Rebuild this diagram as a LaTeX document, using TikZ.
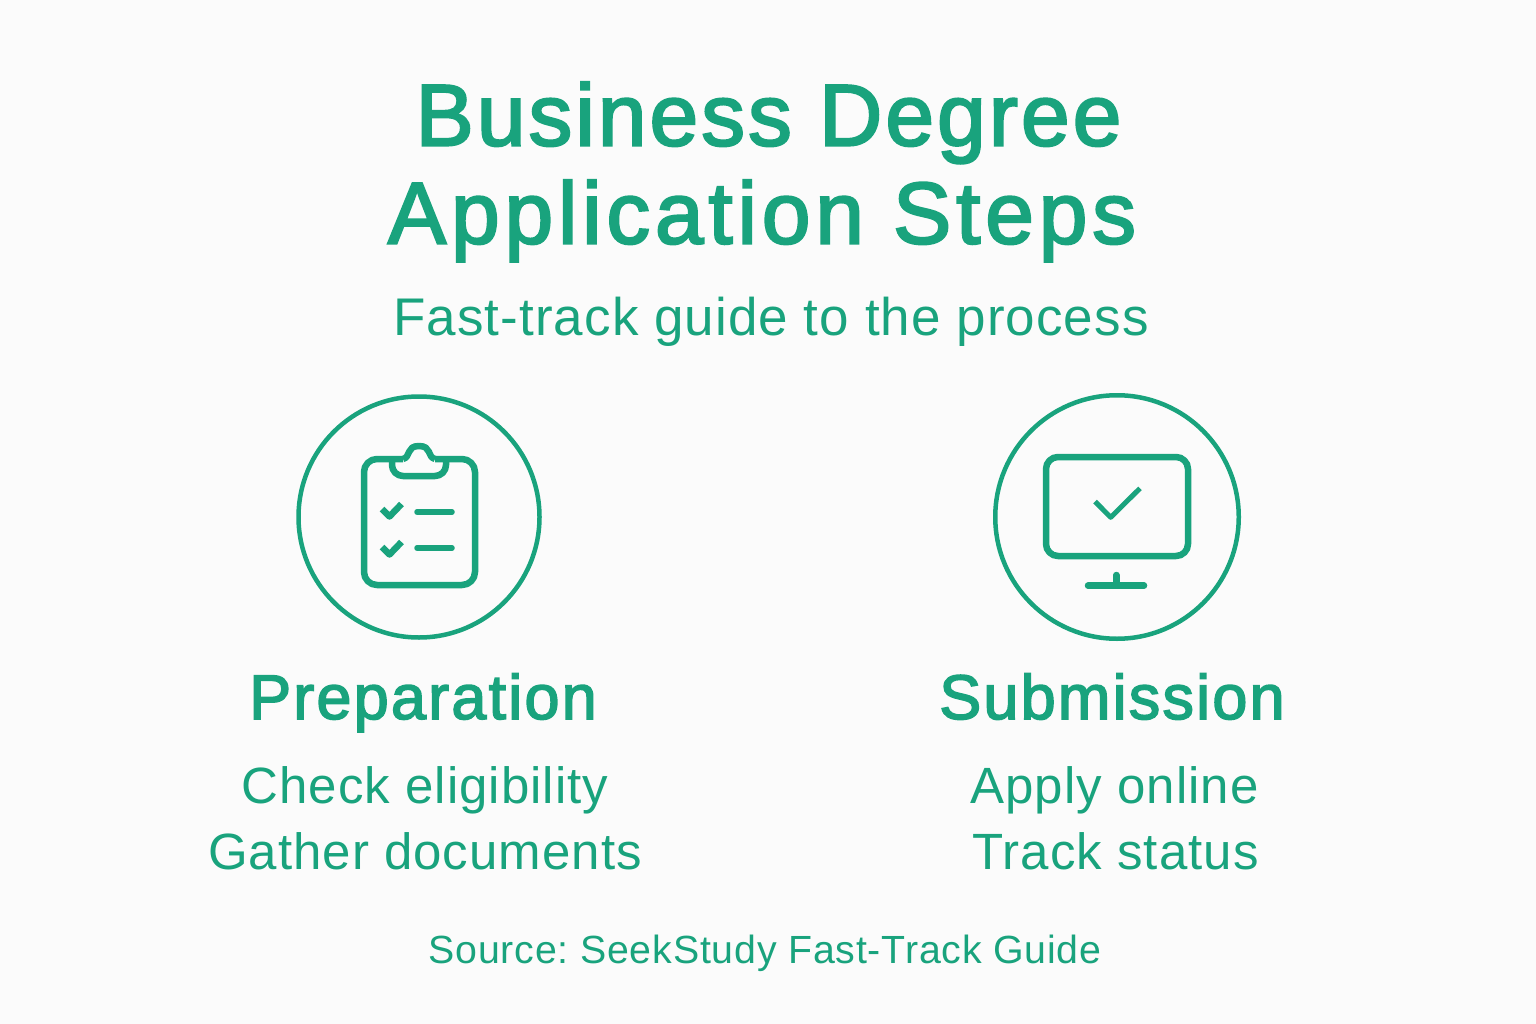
\documentclass[tikz,border=0pt]{standalone}
\usepackage{fontspec}
\setmainfont[LetterSpace=2]{Liberation Sans}
\newfontfamily\headfont[FakeBold=2.5,LetterSpace=3.5]{Liberation Sans}
\newfontfamily\headwide[FakeBold=2.5,LetterSpace=5.5]{Liberation Sans}
\frenchspacing
\usetikzlibrary{positioning}
\definecolor{seekgreen}{HTML}{19A37D}
\definecolor{paper}{HTML}{FBFBFB}
\tikzset {
  % all text hangs on its baseline
  label text/.style = {
    text = seekgreen,
    anchor = base,
    inner sep = 0
  },
  title/.style = {
    label text,
    font = \headfont\fontsize{87.5}{87.5}\selectfont
  },
  wide title/.style = {
    label text,
    font = \headwide\fontsize{87.5}{87.5}\selectfont
  },
  subtitle/.style = {
    label text,
    font = \fontsize{53}{53}\selectfont
  },
  % heading of a column
  stage/.style = {
    label text,
    font = \headfont\fontsize{63}{63}\selectfont
  },
  item/.style = {
    label text,
    font = \fontsize{51}{51}\selectfont
  },
  source/.style = {
    label text,
    font = \fontsize{39.3}{39.3}\selectfont
  },
  % icon in a ring
  ring/.style = {
    draw = seekgreen,
    circle,
    line width = 4.5pt,
    minimum size = 241pt,
    inner sep = 0
  },
  glyph/.style = {
    draw = seekgreen,
    line width = 6.5pt,
    line join = round
  },
  bar/.style = {
    glyph,
    line cap = round
  }
}
\begin{document}
\begin{tikzpicture}[x=1pt, y=-1pt]
    \path[use as bounding box, fill=paper] (0,0) rectangle (1536,1024);

    \node[title] (title-a) at (768.5,145.5) {Business Degree};
    \node[wide title] (title-b) [below=98pt of title-a.base, anchor=base, xshift=-6.5pt] {Application Steps};
    \node[subtitle] (sub) at (771,335) {Fast-track guide to the process};

    \node[ring] (prep) at (419,517) {};
    \node[ring, minimum size=243.5pt] (subm) at (1117,517) {};

    \node[stage] (prep-head) at (423,719) {Preparation};
    \node[item] (check) [below=84pt of prep-head.base, anchor=base, xshift=2pt] {Check eligibility};
    \node[item] (gather) [below=66pt of check.base, anchor=base] {Gather documents};

    \node[stage] (subm-head) at (1112,719) {Submission};
    \node[item] (apply) [below=84pt of subm-head.base, anchor=base, xshift=2.5pt] {Apply online};
    \node[item] (track) [below=66pt of apply.base, anchor=base, xshift=1pt] {Track status};

    \node[source] (src) at (765,963) {Source: SeekStudy Fast-Track Guide};

    % clipboard
    \draw[glyph, rounded corners=13pt] (435,459) -- (475,459) -- (475,585) -- (364,585) -- (364,459) -- (403,459);
    \draw[glyph] (403,459) .. controls (411,457) and (406,446) .. (419,446)
      .. controls (432,446) and (427,457) .. (435,459);
    \draw[glyph, rounded corners=11pt] (392,459) -- (392,476) -- (446,476) -- (446,459);
    \draw[glyph] (382,509) -- (389.5,516.5) -- (401.5,504);
    \draw[glyph] (382,547) -- (389.5,554.5) -- (401.5,542);
    \draw[bar, line width=5.5pt] (417,512) -- (452,512);
    \draw[bar, line width=5.5pt] (417,548) -- (452,548);

    % monitor
    \draw[glyph, rounded corners=12pt] (1046,457) rectangle (1188,556);
    \draw[glyph, line width=5pt] (1095,501.5) -- (1110.7,517.3) -- (1140,488.3);
    \draw[bar] (1116.3,575) -- (1116.3,585.7);
    \draw[bar] (1088,585.7) -- (1144,585.7);
\end{tikzpicture}
\end{document}
